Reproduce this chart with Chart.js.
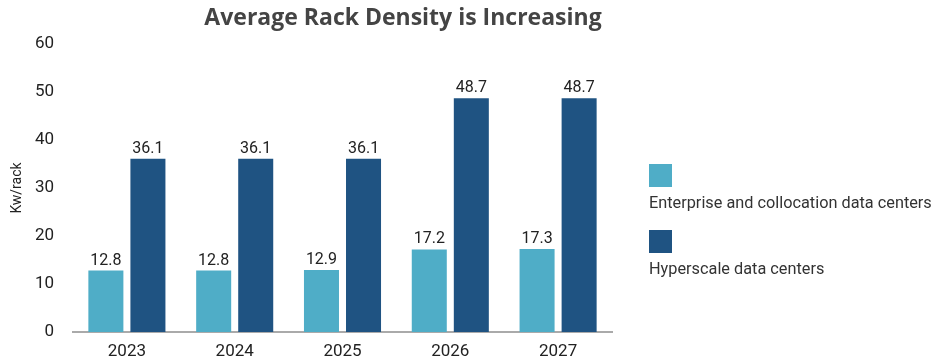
<!DOCTYPE html>
<html>
<head>
<meta charset="utf-8">
<script src="https://cdn.jsdelivr.net/npm/chart.js@4.4.1/dist/chart.umd.min.js"></script>
<style>
  html, body { margin: 0; padding: 0; background: #fff; }
  #wrap { position: relative; width: 935px; height: 356px; }
  .legend { position: absolute; left: 649px; font-family: Roboto, sans-serif; font-size: 16.3px; color: #333; white-space: nowrap; }
  .legend .sw { width: 23px; height: 23px; margin-bottom: 6px; }
</style>
</head>
<body>
<div id="wrap">
  <canvas id="chart" width="935" height="356"></canvas>
  <div class="legend" style="top:164px"><div class="sw" style="background:#4fadc7"></div>Enterprise and collocation data centers</div>
  <div class="legend" style="top:230px"><div class="sw" style="background:#1f5382"></div>Hyperscale data centers</div>
</div>
<script>
const years = ["2023", "2024", "2025", "2026", "2027"]
const enterprise = [12.8, 12.8, 12.9, 17.2, 17.3]
const hyperscale = [36.1, 36.1, 36.1, 48.7, 48.7]
const yMin = 0
const yMax = 60
const yStep = 10

// --- Title + value labels drawn on the canvas ---
const labelPlugin = {
  id: "labels",
  afterDatasetsDraw: (chart) => {
    const { ctx } = chart
    ctx.save()
    ctx.fillStyle = "#222"
    ctx.font = '16px Roboto, sans-serif'
    ctx.textAlign = "center"
    ctx.textBaseline = "bottom"
    chart.data.datasets.forEach((ds, i) => {
      chart.getDatasetMeta(i).data.forEach((bar, j) => {
        ctx.fillText(ds.data[j].toFixed(1), bar.x, bar.y - 2)
      })
    })
    ctx.fillStyle = "#444"
    ctx.font = 'bold 23px "Open Sans", sans-serif'
    ctx.textBaseline = "middle"
    ctx.fillText("Average Rack Density is Increasing", 403, 18)
    ctx.restore()
  },
}

new Chart(document.getElementById("chart"), {
  type: "bar",
  plugins: [labelPlugin],
  data: {
    labels: years,
    datasets: [
      { label: "Enterprise and collocation data centers", data: enterprise, backgroundColor: "#4fadc7" },
      { label: "Hyperscale data centers", data: hyperscale, backgroundColor: "#1f5382" },
    ],
  },
  options: {
    responsive: false,
    animation: false,
    categoryPercentage: 0.78,
    barPercentage: 0.833,
    layout: { padding: { top: 44, right: 323, left: 0, bottom: 0 } },
    plugins: { legend: { display: false }, tooltip: { enabled: false } },
    scales: {
      x: {
        grid: { display: false },
        border: { color: "#aaa", width: 2 },
        ticks: { color: "#222", font: { family: "Roboto", size: 17 }, padding: 2 },
        afterFit: (s) => { s.height = 24 },
      },
      y: {
        min: yMin,
        max: yMax,
        grid: { display: false },
        border: { display: false },
        ticks: { stepSize: yStep, color: "#222", font: { family: "Roboto", size: 17 }, padding: 11 },
        title: { display: true, text: "Kw/rack", color: "#222", font: { family: "Roboto", size: 14 }, padding: { top: 9, bottom: 0 } },
        afterFit: (s) => { s.width = 73 },
      },
    },
  },
})
</script>
</body>
</html>
